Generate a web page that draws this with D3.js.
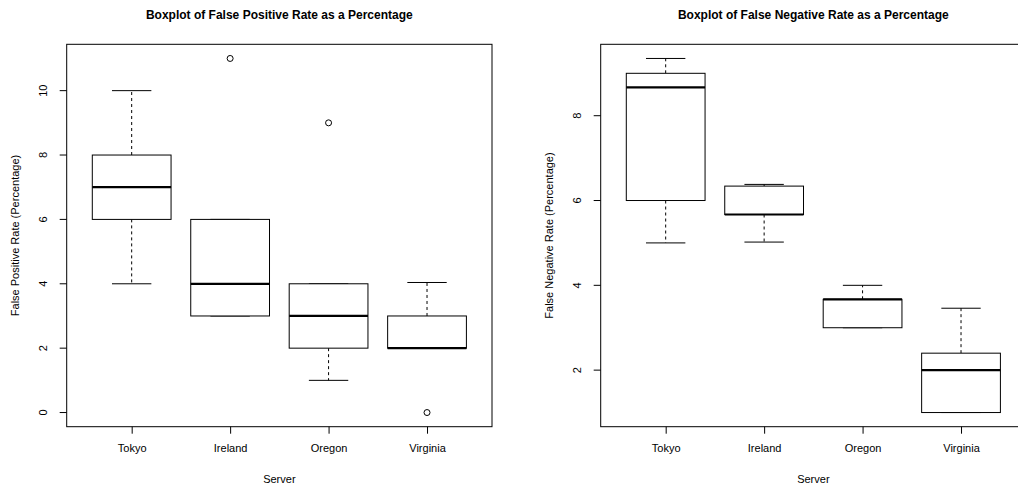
<!DOCTYPE html>
<html>
<head>
<meta charset="utf-8">
<script src="https://cdn.jsdelivr.net/npm/d3@7"></script>
<style>
  html, body { margin: 0; padding: 0; background: #fff; }
  svg { display: block; font-family: "Liberation Sans", Arial, Helvetica, sans-serif; }
</style>
</head>
<body>
<svg id="chart" width="1018" height="487"></svg>
<script>
// ---- data ----
const categories = ["Tokyo", "Ireland", "Oregon", "Virginia"];

// False Positive Rate (%)
const fpLower    = [4, 3, 1, 2];
const fpQ1       = [6, 3, 2, 2];
const fpMedian   = [7, 4, 3, 2];
const fpQ3       = [8, 6, 4, 3];
const fpUpper    = [10, 6, 4, 4.04];
const fpOutliers = [[], [11], [9], [0]];
const fpTicks    = [0, 2, 4, 6, 8, 10];

// False Negative Rate (%)
const fnLower    = [5.0, 5.02, 3.0, 1.0];
const fnQ1       = [6.0, 5.67, 3.0, 1.0];
const fnMedian   = [8.67, 5.67, 3.67, 2.0];
const fnQ3       = [9.0, 6.34, 3.67, 2.4];
const fnUpper    = [9.35, 6.38, 4.0, 3.46];
const fnOutliers = [[], [], [], []];
const fnTicks    = [2, 4, 6, 8];

const panels = [
  { title: "Boxplot of False Positive Rate as a Percentage",
    ylab: "False Positive Rate (Percentage)",
    lower: fpLower, q1: fpQ1, med: fpMedian, q3: fpQ3, upper: fpUpper,
    out: fpOutliers, ticks: fpTicks, offset: 0 },
  { title: "Boxplot of False Negative Rate as a Percentage",
    ylab: "False Negative Rate (Percentage)",
    lower: fnLower, q1: fnQ1, med: fnMedian, q3: fnQ3, upper: fnUpper,
    out: fnOutliers, ticks: fnTicks, offset: 534 }
];

const svg = d3.select("#chart");
const plotLeft = 66.7, plotW = 425.3, plotTop = 44.3, plotBottom = 426.7;

panels.forEach(p => {
  const g = svg.append("g").attr("transform", `translate(${p.offset},0)`);
  const all = [].concat(p.lower, p.upper, ...p.out);
  const mn = d3.min(all), mx = d3.max(all), pad = (mx - mn) * 0.04;
  const y = d3.scaleLinear().domain([mn - pad, mx + pad]).range([plotBottom, plotTop]);
  const n = categories.length;
  const x = d3.scaleLinear().domain([0.5 - n * 0.04, n + 0.5 + n * 0.04]).range([plotLeft, plotLeft + plotW]);

  // frame
  g.append("rect")
    .attr("x", plotLeft).attr("y", plotTop)
    .attr("width", plotW).attr("height", plotBottom - plotTop)
    .attr("fill", "none").attr("stroke", "#000").attr("stroke-width", 1);

  // y axis
  const yAxis = d3.axisLeft(y).tickValues(p.ticks).tickSize(7).tickPadding(0).tickFormat(d3.format("d"));
  const ya = g.append("g").attr("transform", `translate(${plotLeft},0)`).call(yAxis);
  ya.select(".domain").remove();
  ya.selectAll("line").attr("stroke", "#000");
  ya.selectAll("text")
    .attr("font-size", 11).attr("fill", "#000")
    .attr("text-anchor", "middle")
    .attr("transform", d => `translate(-23.4, ${y(d)}) rotate(-90)`)
    .attr("x", 0).attr("y", 0).attr("dy", "0.35em");
  ya.selectAll(".tick").attr("transform", null);
  ya.selectAll(".tick line").attr("y1", d => y(d)).attr("y2", d => y(d)).attr("x2", -7);

  // x axis
  const xAxis = d3.axisBottom(x).tickValues(d3.range(1, n + 1)).tickSize(7).tickPadding(11)
    .tickFormat(i => categories[i - 1]);
  const xa = g.append("g").attr("transform", `translate(0,${plotBottom})`).call(xAxis);
  xa.select(".domain").remove();
  xa.selectAll("line").attr("stroke", "#000");
  xa.selectAll("text").attr("font-size", 11).attr("fill", "#000");

  // boxes
  categories.forEach((c, i) => {
    const cx = x(i + 1);
    const bw = 0.4, cw = 0.2;
    const bx0 = x(i + 1 - bw), bx1 = x(i + 1 + bw);
    const cx0 = x(i + 1 - cw), cx1 = x(i + 1 + cw);
    // whiskers (dashed)
    g.append("line").attr("x1", cx).attr("x2", cx)
      .attr("y1", y(p.q3[i])).attr("y2", y(p.upper[i]))
      .attr("stroke", "#000").attr("stroke-dasharray", "3,3");
    g.append("line").attr("x1", cx).attr("x2", cx)
      .attr("y1", y(p.q1[i])).attr("y2", y(p.lower[i]))
      .attr("stroke", "#000").attr("stroke-dasharray", "3,3");
    // caps
    [p.upper[i], p.lower[i]].forEach(v => {
      g.append("line").attr("x1", cx0).attr("x2", cx1)
        .attr("y1", y(v)).attr("y2", y(v)).attr("stroke", "#000");
    });
    // box
    g.append("rect")
      .attr("x", bx0).attr("y", y(p.q3[i]))
      .attr("width", bx1 - bx0).attr("height", y(p.q1[i]) - y(p.q3[i]))
      .attr("fill", "#fff").attr("stroke", "#000");
    // median
    g.append("line").attr("x1", bx0).attr("x2", bx1)
      .attr("y1", y(p.med[i])).attr("y2", y(p.med[i]))
      .attr("stroke", "#000").attr("stroke-width", 2.2);
    // outliers
    p.out[i].forEach(v => {
      g.append("circle").attr("cx", cx).attr("cy", y(v)).attr("r", 3)
        .attr("fill", "none").attr("stroke", "#000");
    });
  });

  // titles
  const midX = plotLeft + plotW / 2;
  g.append("text").attr("x", midX).attr("y", 19)
    .attr("text-anchor", "middle").attr("font-size", 12).attr("font-weight", "bold")
    .text(p.title);
  g.append("text").attr("x", midX).attr("y", 483)
    .attr("text-anchor", "middle").attr("font-size", 11).text("Server");
  g.append("text")
    .attr("transform", `translate(${plotLeft - 51.7},${(plotTop + plotBottom) / 2}) rotate(-90)`)
    .attr("text-anchor", "middle").attr("dy", "0.35em").attr("font-size", 11)
    .text(p.ylab);
});
</script>
</body>
</html>
